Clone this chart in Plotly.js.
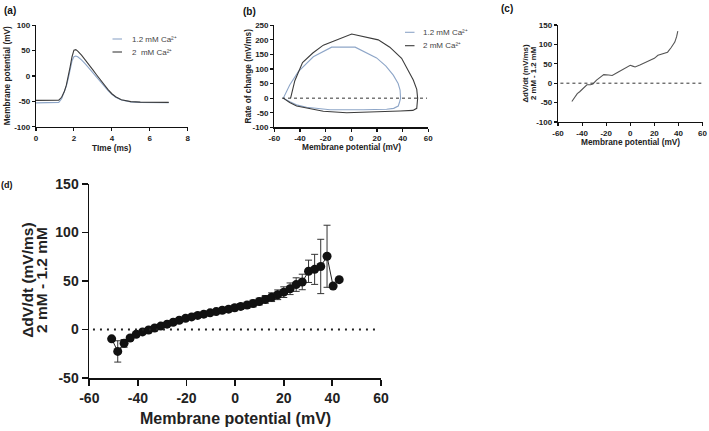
<!DOCTYPE html>
<html>
<head>
<meta charset="utf-8">
<script src="https://cdn.plot.ly/plotly-3.0.1.min.js"></script>
<style>html,body{margin:0;padding:0;background:#fff;}#chart{width:709px;height:431px;}</style>
</head>
<body>
<div id="chart"></div>
<script>
// ---------- (a) action potentials ----------
const apTime = [0, 0.5, 1.0, 1.2, 1.35, 1.5, 1.6, 1.7, 1.8, 1.9, 2.0, 2.1, 2.2, 2.4, 2.6, 2.8, 3.0, 3.2, 3.4, 3.6, 3.8, 4.0, 4.2, 4.5, 5.0, 5.5, 6.0, 6.5, 7.0];
const ap12mM = [-53, -53, -52.8, -52, -45, -32, -20, -5, 13, 30, 38, 39.5, 38, 32, 24, 15, 6, -3, -12, -21, -29, -36, -42, -47.5, -51, -52, -52.5, -52.5, -52.5];
const ap2mM = [-48, -48, -48, -47.5, -42, -30, -18, -2, 18, 38, 51, 52, 49, 41, 32, 22, 12, 2, -8, -18, -27, -35, -41, -47, -50.5, -51.5, -52, -52, -52];

// ---------- (b) phase plots ----------
const phaseV12 = [-53, -48, -41.3, -35, -29.6, -15.3, 3, 19.7, 27, 32.7, 36.5, 38, 38.4, 37.5, 36.6, 33, 27.5, 9.4, -16.6, -34.8, -42, -47.8, -53];
const phaseR12 = [0, 45, 91, 120, 142, 175, 175, 138, 110, 79, 50, 28, 0, -15, -27, -35, -38, -40, -40, -31, -24, -12, 0];
const phaseV2 = [-47.3, -44, -38, -30, -21.8, 0.3, 21, 30, 39.2, 44, 48.3, 51, 51.7, 51, 48, 38, 14.5, -3.6, -21.8, -35, -42.6, -48, -53];
const phaseR2 = [0, 60, 122, 155, 182, 220, 200, 175, 137, 100, 62, 30, 0, -35, -42, -44, -46, -50, -45, -35, -27, -15, 0];

// ---------- (c) difference trace ----------
const diffV = [-48.5, -46, -44, -42, -39, -36, -33, -31, -28, -25, -22, -18, -15, -11, -7, -3, 0, 2, 4, 8, 12, 16, 20, 23, 27, 31, 34, 37, 38.5, 39.5];
const diffR = [-47, -35, -27, -22, -13, -4, -4, -2, 8, 15, 22, 21, 20, 27, 34, 40, 46, 44, 42, 47, 53, 58, 64, 72, 76, 80, 92, 106, 120, 134];

// ---------- (d) mean difference ----------
const meanV = [-50.8, -48.3, -45.7, -43.2, -40.7, -38.1, -35.6, -33.1, -30.6, -28.0, -25.5, -23.0, -20.4, -17.9, -15.4, -12.9, -10.3, -7.8, -5.3, -2.7, -0.2, 2.3, 4.9, 7.4, 9.9, 12.4, 15.0, 17.5, 20.0, 22.6, 25.1, 27.6, 30.2, 32.7, 35.2, 37.8, 40.3, 42.8];
const meanDiff = [-9.6, -22.6, -14.3, -8.8, -5, -2.5, -0.5, 1.5, 3.5, 5.5, 7.5, 9.5, 11.5, 13, 14.5, 15.8, 17.2, 18.5, 19.8, 21, 22.3, 23.8, 25.2, 26.8, 28.8, 31, 33.3, 35.8, 38.5, 42, 46.3, 49, 60, 62, 65, 75.5, 44.8, 51.4];
const semDiff = [null, 11, 4, 2.5, 2, 1.5, 1.5, 1.5, 1.5, 1.5, 1.5, 1.5, 1.5, 1.5, 1.5, 2, 2, 2, 2.5, 2.5, 3, 3, 3, 3.5, 3.5, 4, 4.5, 5, 5.5, 6, 7, 8, 11.5, 15.5, 28, 32, null, null];

// ---------- tick labels ----------
const timeTicks = [0, 2, 4, 6, 8];
const timeTickText = ['0', '2', '4', '6', '8'];
const vmTicks = [-60, -40, -20, 0, 20, 40, 60];
const vmTickText = ['-60', '-40', '-20', '0', '20', '40', '60'];
const apTicks = [-100, -50, 0, 50, 100];
const apTickText = ['-100', '-50', '0', '50', '100'];
const rateTicks = [-100, -50, 0, 50, 100, 150, 200, 250];
const rateTickText = ['-100', '-50', '0', '50', '100', '150', '200', '250'];
const diffTicks = [-100, -50, 0, 50, 100, 150];
const diffTickText = ['-100', '-50', '0', '50', '100', '150'];
const meanTicks = [-50, 0, 50, 100, 150];
const meanTickText = ['-50', '0', '50', '100', '150'];

const legendLabels = ['1.2 mM Ca²⁺', '2  mM Ca²⁺', '2 mM Ca²⁺'];
const panelLabels = ['(a)', '(b)', '(c)', '(d)'];

const W = 709, H = 431;
const px = v => v / W;
const py = v => 1 - v / H;
const LIGHT = '#8ea6c8', DARK = '#3c3c3c';
const FONT = 'Liberation Sans, Arial, sans-serif';

const traces = [
  {x: apTime, y: ap12mM, xaxis: 'x', yaxis: 'y', mode: 'lines', name: '1.2 mM', line: {color: LIGHT, width: 1.1}, showlegend: false},
  {x: apTime, y: ap2mM, xaxis: 'x', yaxis: 'y', mode: 'lines', name: '2 mM', line: {color: DARK, width: 1.1}, showlegend: false},
  {x: phaseV12, y: phaseR12, xaxis: 'x2', yaxis: 'y2', mode: 'lines', name: '1.2 mM', line: {color: LIGHT, width: 1.1}, showlegend: false},
  {x: phaseV2, y: phaseR2, xaxis: 'x2', yaxis: 'y2', mode: 'lines', name: '2 mM', line: {color: DARK, width: 1.1}, showlegend: false},
  {x: diffV, y: diffR, xaxis: 'x3', yaxis: 'y3', mode: 'lines', name: 'diff', line: {color: '#555', width: 1.1}, showlegend: false},
  {x: meanV, y: meanDiff, xaxis: 'x4', yaxis: 'y4', mode: 'lines+markers', name: 'mean',
   line: {color: '#222', width: 1}, marker: {color: '#111', size: 9},
   error_y: {type: 'data', array: semDiff, visible: true, color: '#333', thickness: 1, width: 3.5},
   showlegend: false}
];

function smallAxis(domain, range, vals, texts, anchor) {
  return {domain: domain, range: range, tickmode: 'array', tickvals: vals, ticktext: texts, anchor: anchor,
    showline: true, linecolor: '#111', linewidth: 1.2, ticks: 'outside', ticklen: 3, tickwidth: 1.1, tickcolor: '#111',
    showgrid: false, zeroline: false, fixedrange: true,
    tickfont: {family: FONT, size: 8, color: '#222', weight: 'bold'}};
}
function bigAxis(domain, range, vals, texts, anchor) {
  return {domain: domain, range: range, tickmode: 'array', tickvals: vals, ticktext: texts, anchor: anchor,
    showline: true, linecolor: '#111', linewidth: 1.8, ticks: 'outside', ticklen: 6, tickwidth: 1.8, tickcolor: '#111',
    showgrid: false, zeroline: false, fixedrange: true,
    tickfont: {family: FONT, size: 14, color: '#222', weight: 'bold'}};
}

const layout = {
  width: W, height: H, margin: {l: 0, r: 0, t: 0, b: 0}, paper_bgcolor: '#fff', plot_bgcolor: 'rgba(0,0,0,0)',
  showlegend: false,
  xaxis: smallAxis([px(36), px(187.7)], [0, 8], timeTicks, timeTickText, 'y'),
  yaxis: smallAxis([py(126.7), py(25.3)], [-100, 100], apTicks, apTickText, 'x'),
  xaxis2: smallAxis([px(274.3), px(428.3)], [-60, 60], vmTicks, vmTickText, 'y2'),
  yaxis2: smallAxis([py(127.3), py(25.3)], [-100, 250], rateTicks, rateTickText, 'x2'),
  xaxis3: smallAxis([px(558), px(702.5)], [-60, 60], vmTicks, vmTickText, 'y3'),
  yaxis3: smallAxis([py(122), py(25)], [-100, 150], diffTicks, diffTickText, 'x3'),
  xaxis4: bigAxis([px(89.3), px(381)], [-60, 60], vmTicks, vmTickText, 'y4'),
  yaxis4: bigAxis([py(378), py(184)], [-50, 150], meanTicks, meanTickText, 'x4'),
  shapes: [
    {type: 'line', xref: 'x2', yref: 'y2', x0: -54, x1: 59, y0: 0, y1: 0, line: {color: '#333', width: 1, dash: 'dot'}},
    {type: 'line', xref: 'x3', yref: 'y3', x0: -58, x1: 59, y0: 0, y1: 0, line: {color: '#333', width: 1, dash: 'dot'}},
    {type: 'line', xref: 'x4', yref: 'y4', x0: -58.5, x1: 58.5, y0: 0, y1: 0, line: {color: '#222', width: 2, dash: '2px,5px'}},
    // legend samples
    {type: 'line', xref: 'paper', yref: 'paper', x0: px(112.5), x1: px(122), y0: py(39), y1: py(39), line: {color: LIGHT, width: 1.1}},
    {type: 'line', xref: 'paper', yref: 'paper', x0: px(112.5), x1: px(122), y0: py(52), y1: py(52), line: {color: DARK, width: 1.1}},
    {type: 'line', xref: 'paper', yref: 'paper', x0: px(405), x1: px(414.5), y0: py(32.3), y1: py(32.3), line: {color: LIGHT, width: 1.1}},
    {type: 'line', xref: 'paper', yref: 'paper', x0: px(405), x1: px(414.5), y0: py(45.7), y1: py(45.7), line: {color: DARK, width: 1.1}}
  ],
  annotations: []
};

function ann(text, x, y, opts) {
  const o = Object.assign({size: 8.3, bold: true, angle: 0, xanchor: 'center', color: '#222'}, opts || {});
  layout.annotations.push({text: text, xref: 'paper', yref: 'paper', x: px(x), y: py(y), xanchor: o.xanchor, yanchor: 'middle',
    showarrow: false, textangle: o.angle,
    font: {family: FONT, size: o.size, color: o.color, weight: o.bold ? 'bold' : 'normal'}});
}

// panel labels
ann(panelLabels[0], 10, 10.5, {size: 10, color: '#111'});
ann(panelLabels[1], 249, 12, {size: 10, color: '#111'});
ann(panelLabels[2], 506.5, 9, {size: 10, color: '#111'});
ann(panelLabels[3], 7.5, 185, {size: 9, color: '#111'});

// axis titles (a)
ann('TIme (ms)', 111.8, 148);
ann('Membrane potential (mV)', 7.3, 76, {angle: -90});
// (b)
ann('Membrane potential (mV)', 351.3, 146.7);
ann('Rate of change (mV/ms)', 248.3, 76.3, {angle: -90});
// (c)
ann('Membrane potential (mV)', 630.3, 142);
ann('ΔdV/dt (mV/ms)', 525, 73.5, {angle: -90, size: 7.8});
ann('2 mM - 1.2 mM', 533.5, 73.5, {angle: -90, size: 7.8});
// (d)
ann('Membrane potential (mV)', 235, 418, {size: 16});
ann('ΔdV/dt (mV/ms)', 26.8, 280, {angle: -90, size: 15.5});
ann('2 mM - 1.2 mM', 41, 280, {angle: -90, size: 15.5});

// legends
ann(legendLabels[0], 130, 39, {bold: false, size: 8, xanchor: 'left', color: '#444'});
ann(legendLabels[1], 130, 52, {bold: false, size: 8, xanchor: 'left', color: '#444'});
ann(legendLabels[0], 420.7, 32.3, {bold: false, size: 8, xanchor: 'left', color: '#444'});
ann(legendLabels[2], 420.7, 45.7, {bold: false, size: 8, xanchor: 'left', color: '#444'});

Plotly.newPlot('chart', traces, layout, {staticPlot: true, displayModeBar: false});
</script>
</body>
</html>
